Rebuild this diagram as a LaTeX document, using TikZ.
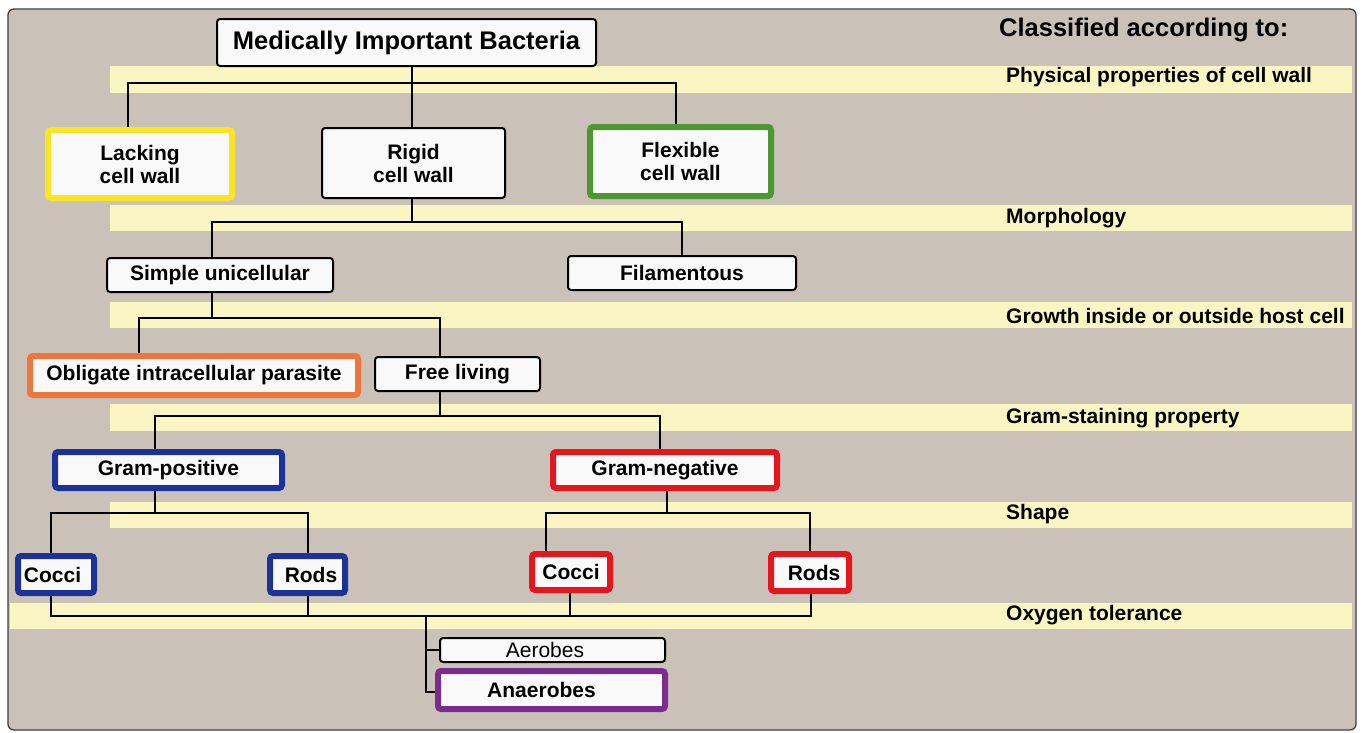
\documentclass[tikz,border=0pt]{standalone}
\usepackage{fontspec}
\setmainfont{Liberation Sans}
\usetikzlibrary{calc}

\definecolor{panel}{RGB}{202,193,185}
\definecolor{band}{RGB}{250,246,196}
\definecolor{boxfill}{RGB}{250,249,250}
\definecolor{cyellow}{RGB}{250,228,35}
\definecolor{cgreen}{RGB}{78,150,48}
\definecolor{corange}{RGB}{236,118,60}
\definecolor{cblue}{RGB}{28,50,150}
\definecolor{cred}{RGB}{226,24,30}
\definecolor{cpurple}{RGB}{122,45,140}

\newcommand\bigfont{\bfseries\fontsize{25.5}{28}\selectfont}
\newcommand\boxfont{\bfseries\fontsize{21}{23}\selectfont}
\newcommand\plainfont{\fontsize{21}{23}\selectfont}

\pgfdeclarelayer{bg}
\pgfdeclarelayer{lines}
\pgfsetlayers{bg,lines,main}

\tikzset{
  box/.style={draw=black, line width=2pt, fill=boxfill, rounded corners=3pt,
    inner sep=0pt, align=center, font=\boxfont},
  thickbox/.style={box, line width=6pt, draw=#1},
  conn/.style={draw=black, line width=2pt},
  level/.style={anchor=west, inner sep=0pt, font=\boxfont},
  bandstrip/.style={fill=band}
}

\begin{document}
\begin{tikzpicture}[x=1pt, y=-1pt]
\useasboundingbox (0,0) rectangle (1363,732);

% nodes of the classification tree
\node[box, font=\bigfont, minimum width=379pt, minimum height=47pt] (title) at (406.5,42.5) {Medically Important Bacteria};

\node[thickbox=cyellow, minimum width=184pt, minimum height=68pt] (lack) at (140,164) {Lacking\\cell wall};
\node[box, minimum width=183pt, minimum height=70pt] (rigid) at (413.5,163) {Rigid\\cell wall};
\node[thickbox=cgreen, minimum width=181pt, minimum height=69pt] (flex) at (680.5,161.5) {Flexible\\cell wall};

\node[box, minimum width=226pt, minimum height=34pt] (simple) at (220,275) {Simple unicellular};
\node[box, minimum width=228pt, minimum height=34pt] (fil) at (682,273) {Filamentous};

\node[thickbox=corange, minimum width=328pt, minimum height=39pt] (obl) at (194,375.5) {Obligate intracellular parasite};
\node[box, minimum width=165pt, minimum height=34pt] (free) at (457.5,374) {Free living};

\node[thickbox=cblue, minimum width=227pt, minimum height=36pt] (gpos) at (168.5,470) {Gram-positive};
\node[thickbox=cred, minimum width=224pt, minimum height=36pt] (gneg) at (665,470) {Gram-negative};

\node[thickbox=cblue, minimum width=76pt, minimum height=37pt] (bcoc) at (56,574.5) {Cocci\hspace*{7pt}};
\node[thickbox=cblue, minimum width=75pt, minimum height=37pt] (brod) at (307.5,574.5) {\hspace*{7pt}Rods};
\node[thickbox=cred, minimum width=78pt, minimum height=36pt] (rcoc) at (571,572) {Cocci};
\node[thickbox=cred, minimum width=78pt, minimum height=37pt] (rrod) at (810,572.5) {\hspace*{8pt}Rods};

\node[box, font=\plainfont, minimum width=225pt, minimum height=24pt] (aer) at (552.5,650) {Aerobes\hspace*{15pt}};
\node[thickbox=cpurple, minimum width=227pt, minimum height=38pt] (anaer) at (551.5,690) {Anaerobes\hspace*{20pt}};

% criteria column
\node[level, font=\bigfont] (lhead) at (999,30) {Classified according to:};
\node[level] (lwall) at (1006,77) {Physical properties of cell wall};
\node[level] (lmorph) at (1006,218) {Morphology};
\node[level] (lgrowth) at (1006,316) {Growth inside or outside host cell};
\node[level] (lgram) at (1006,418) {Gram-staining property};
\node[level] (lshape) at (1006,514) {Shape};
\node[level] (loxy) at (1006,615) {Oxygen tolerance};

% panel and highlighted rows
\begin{pgfonlayer}{bg}
  \fill[white] (0,0) rectangle (1363,732);
  \draw[fill=panel, draw=black!75, line width=1.3pt, rounded corners=6pt] (8,9) rectangle (1356,730);
  \fill[bandstrip] (110,66) rectangle (1352,93);
  \fill[bandstrip] (110,205) rectangle (1352,231);
  \fill[bandstrip] (110,302) rectangle (1352,328);
  \fill[bandstrip] (110,404) rectangle (1352,431);
  \fill[bandstrip] (110,502) rectangle (1352,528);
  \fill[bandstrip] (10,603) rectangle (1352,629);
\end{pgfonlayer}

% connectors
\begin{pgfonlayer}{lines}
  % cell wall
  \coordinate (j1) at (412,83);
  \draw[conn] (title.south -| j1) -- (j1);
  \draw[conn] (lack.north -| 128,0) |- (j1) -| (flex.north -| 676,0);
  \draw[conn] (j1) -- (rigid.north -| j1);
  % morphology
  \coordinate (j2) at (412,222);
  \draw[conn] (rigid.south -| j2) -- (j2);
  \draw[conn] (simple.north -| 212,0) |- (j2) -| (fil.north);
  % growth
  \coordinate (j3) at (212,318);
  \draw[conn] (simple.south -| j3) -- (j3);
  \draw[conn] (obl.north -| 139,0) |- (j3) -| (free.north -| 440,0);
  % gram staining
  \coordinate (j4) at (440,416);
  \draw[conn] (free.south -| j4) -- (j4);
  \draw[conn] (gpos.north -| 155,0) |- (j4) -| (gneg.north -| 660,0);
  % shape
  \coordinate (j5a) at (155,513);
  \draw[conn] (gpos.south -| j5a) -- (j5a);
  \draw[conn] (bcoc.north -| 51,0) |- (j5a) -| (brod.north -| 308,0);
  \coordinate (j5b) at (667,513);
  \draw[conn] (gneg.south -| j5b) -- (j5b);
  \draw[conn] (rcoc.north -| 546,0) |- (j5b) -| (rrod.north -| 810,0);
  % oxygen
  \coordinate (j6) at (426,616);
  \draw[conn] (bcoc.south -| 51,0) |- (j6) -| (rrod.south -| 811,0);
  \draw[conn] (brod.south -| 308,0) -- (j6 -| 308,0);
  \draw[conn] (rcoc.south -| 570,0) -- (j6 -| 570,0);
  \draw[conn] (j6) |- (aer.west);
  \draw[conn] (j6) |- ($(anaer.west)+(0,2)$);
\end{pgfonlayer}
\end{tikzpicture}
\end{document}
